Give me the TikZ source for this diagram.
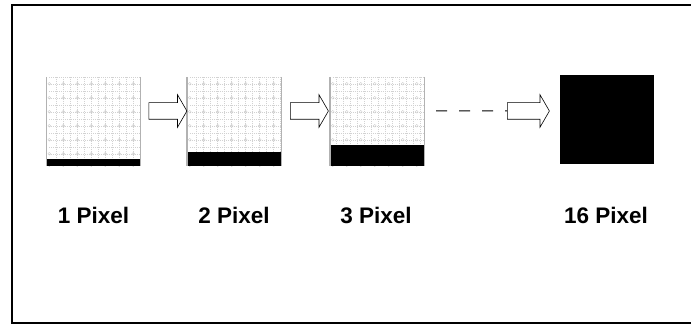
\documentclass[tikz,border=0pt]{standalone}
\usepackage{fontspec}
\setmainfont{Liberation Sans}
\usetikzlibrary{shapes.arrows}

\begin{document}
\begin{tikzpicture}[x=1pt,y=-1pt,
  cell/.style={inner sep=0,minimum width=94pt,minimum height=89pt},
  band/.style={fill=black},
  blockarrow/.style={draw,single arrow,inner sep=0,minimum height=38pt,
    single arrow head extend=8pt,single arrow tip angle=120,line width=0.6pt},
  caption/.style={anchor=base,font=\fontsize{22.5}{27}\selectfont\bfseries}]
\useasboundingbox (0,0) rectangle (691,326);
\draw[line width=1.6pt] (12,5) rectangle (702,323);

\node[cell] (p1) at (93.5,121.5) {};
\node[cell] (p2) at (234,121.5) {};
\node[cell] (p3) at (377,121.5) {};
\node[cell,fill=black] (p16) at (607,119.5) {};

% dotted fill of the first three cells
\foreach \n/\h in {1/7,2/14,3/21}{
  \begin{scope}
  \clip (p\n.south west) rectangle (p\n.north east);
  \draw[gray!35,line width=0.5pt,dash pattern=on 1pt off 1pt]
    ([xshift=3pt]p\n.north west) grid[step=7pt] (p\n.south east);
  \foreach \i in {0,...,7}{
    \foreach \j in {0,...,7}{
      \draw[gray!40,line width=0.4pt] ([xshift=3pt+14*\i,yshift=-7pt-14*\j]p\n.north west) circle (1.4pt);
    }
  }
  \end{scope}
  \fill[band] (p\n.south west) rectangle ([yshift=\h]p\n.south east);
  \draw[gray!60,line width=1.4pt] (p\n.north west) -- (p\n.south west);
  \draw[gray!60,line width=1.4pt] (p\n.north east) -- (p\n.south east);
}

\node[blockarrow] (a1) at (165.5,111) {\rule{0pt}{16pt}};
\node[blockarrow] (a2) at (307,111) {\rule{0pt}{16pt}};
\node[blockarrow,minimum height=42pt] (a3) at (526,111) {\rule{0pt}{16pt}};

\coordinate (gap) at (436,111);
\draw[line width=1pt,dash pattern=on 11pt off 12pt] (gap) -- (a3.west);

\node[caption] (c1) at (93.5,223) {1 Pixel};
\node[caption] (c2) at (234,223) {2 Pixel};
\node[caption] (c3) at (376,223) {3 Pixel};
\node[caption] (c16) at (606,223) {16 Pixel};
\end{tikzpicture}
\end{document}
